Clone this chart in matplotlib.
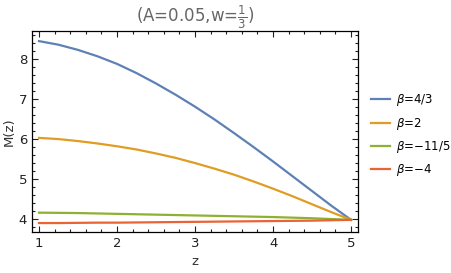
import matplotlib

matplotlib.use("Agg")

import matplotlib.pyplot as plt
from matplotlib.ticker import MultipleLocator

z = [1.0, 1.25, 1.5, 1.75, 2.0, 2.25, 2.5, 2.75, 3.0, 3.25, 3.5, 3.75, 4.0, 4.25, 4.5, 4.75, 5.0]

m_beta_4_3 = [8.45, 8.36, 8.23, 8.07, 7.88, 7.65, 7.39, 7.11, 6.81, 6.49, 6.15, 5.80, 5.44, 5.07, 4.70, 4.33, 3.98]
m_beta_2 = [6.03, 6.00, 5.95, 5.89, 5.82, 5.74, 5.64, 5.53, 5.40, 5.26, 5.11, 4.94, 4.76, 4.57, 4.37, 4.17, 3.98]
m_beta_m11_5 = [4.16, 4.155, 4.15, 4.14, 4.13, 4.12, 4.11, 4.10, 4.09, 4.08, 4.07, 4.06, 4.05, 4.035, 4.02, 4.00, 3.98]
m_beta_m4 = [3.90, 3.90, 3.905, 3.91, 3.91, 3.915, 3.92, 3.925, 3.93, 3.935, 3.94, 3.945, 3.95, 3.955, 3.96, 3.97, 3.98]

labels = [r"$\beta$=4/3", r"$\beta$=2", r"$\beta$=$-$11/5", r"$\beta$=$-$4"]
colors = ["#5E81B5", "#E19C24", "#8FB032", "#EB6235"]

fig = plt.figure(figsize=(4.51, 2.73), dpi=100)
axis = fig.add_axes([0.071, 0.150, 0.723, 0.736])

for series, label, color in zip([m_beta_4_3, m_beta_2, m_beta_m11_5, m_beta_m4], labels, colors):
    axis.plot(z, series, color=color, linewidth=1.6, label=label)

axis.set_xlim(0.91, 5.09)
axis.set_ylim(3.675, 8.7)
axis.xaxis.set_major_locator(MultipleLocator(1))
axis.xaxis.set_minor_locator(MultipleLocator(0.2))
axis.yaxis.set_major_locator(MultipleLocator(1))
axis.yaxis.set_minor_locator(MultipleLocator(0.2))
axis.tick_params(which="both", direction="in", top=True, right=True, colors="#222222", labelsize=9.5, width=0.8)
axis.tick_params(which="major", length=4.5)
axis.tick_params(which="minor", length=2.5)
for spine in axis.spines.values():
    spine.set_linewidth(0.9)

axis.set_xlabel("z", fontsize=9.5, color="#333333", labelpad=4)
axis.set_ylabel("M(z)", fontsize=9.5, color="#333333", labelpad=2)
axis.set_title(r"(A=0.05,w=$\frac{1}{3}$)", fontsize=12, color="#666666", pad=6)

fig.legend(loc="center left", bbox_to_anchor=(0.8226, 0.504), frameon=False, fontsize=8.5,
           borderpad=0, borderaxespad=0, handlelength=1.6, handletextpad=0.5, labelspacing=0.62)

fig.savefig("out.png", dpi=100)
